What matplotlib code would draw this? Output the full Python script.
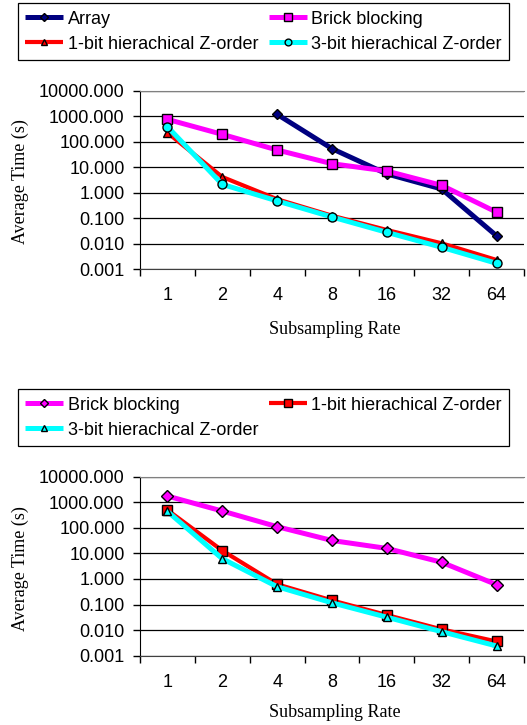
import matplotlib
matplotlib.use("Agg")
import matplotlib.pyplot as plt
from matplotlib.ticker import FixedLocator, NullFormatter, FormatStrFormatter

# ---- data ----
rates = ["1", "2", "4", "8", "16", "32", "64"]

# top chart
top_array = [None, None, 1180, 53, 5.4, 1.38, 0.020]
top_brick = [750, 193, 47, 13.6, 7.0, 1.92, 0.17]
top_1bit = [224, 4.1, 0.55, 0.124, 0.034, 0.0102, 0.00226]
top_3bit = [386, 2.1, 0.47, 0.11, 0.0275, 0.0071, 0.00167]

# bottom chart
bot_brick = [1750, 454, 111, 32, 15.7, 4.5, 0.60]
bot_1bit = [500, 12.9, 0.62, 0.145, 0.039, 0.0107, 0.0036]
bot_3bit = [440, 6.2, 0.50, 0.117, 0.032, 0.0087, 0.0024]

y_ticks = [0.001, 0.01, 0.1, 1, 10, 100, 1000, 10000]
x_label = "Subsampling Rate"
y_label = "Average Time (s)"

W, H = 527, 725
fig = plt.figure(figsize=(W / 100, H / 100), dpi=100)

SANS = ["Liberation Sans", "DejaVu Sans"]
SERIF = ["Liberation Serif", "DejaVu Serif"]
FS = 13


def ax_rect(x0, y0, x1, y1):
    return [x0 / W, 1 - y1 / H, (x1 - x0) / W, (y1 - y0) / H]


def style_axes(ax, ylab_y, xlab_y):
    ax.set_yscale("log")
    ax.set_ylim(0.001, 10000)
    ax.set_xlim(-0.5, len(rates) - 0.5)
    ax.yaxis.set_major_locator(FixedLocator(y_ticks))
    ax.yaxis.set_minor_locator(FixedLocator([]))
    ax.yaxis.set_major_formatter(FormatStrFormatter("%.3f"))
    ax.set_xticks(range(len(rates)))
    ax.set_xticklabels(rates)
    ax.xaxis.set_minor_locator(FixedLocator([i + 0.5 for i in range(-1, len(rates))]))
    ax.xaxis.set_minor_formatter(NullFormatter())
    ax.tick_params(axis="x", which="major", length=0, pad=13)
    ax.tick_params(axis="x", which="minor", length=5, width=1, direction="out", color="black")
    ax.tick_params(axis="y", which="major", length=5, width=1, direction="out", pad=6, color="black")
    for lab in ax.get_xticklabels() + ax.get_yticklabels():
        lab.set_fontfamily(SANS)
        lab.set_fontsize(FS)
    ax.grid(True, axis="y", color="black", linewidth=0.9)
    ax.set_axisbelow(True)
    ax.spines["right"].set_visible(False)
    ax.spines["top"].set_color("#808080")
    ax.spines["left"].set_color("black")
    ax.spines["bottom"].set_color("#404040")
    ax.set_xlabel(x_label, fontfamily=SERIF, fontsize=FS)
    ax.set_ylabel(y_label, fontfamily=SERIF, fontsize=FS)
    ax.xaxis.set_label_coords(0.507, xlab_y)
    ax.xaxis.label.set_va("center")
    ax.yaxis.set_label_coords(-0.311, ylab_y)
    ax.yaxis.label.set_va("center")


def plot_series(ax, vals, color, marker, ms, lw):
    xs = [i for i, v in enumerate(vals) if v is not None]
    ys = [v for v in vals if v is not None]
    return ax.plot(xs, ys, color=color, lw=lw, marker=marker, ms=ms,
                   markerfacecolor=color, markeredgecolor="black",
                   markeredgewidth=1.0, solid_capstyle="butt",
                   solid_joinstyle="round")[0]


def add_legend(handles, labels, y0, y1):
    leg = fig.legend(handles, labels, ncol=2, mode="expand", loc="lower left",
                     bbox_to_anchor=(18 / W, 1 - y1 / H, 491 / W, (y1 - y0) / H),
                     borderaxespad=0, frameon=True, fancybox=False,
                     edgecolor="black", framealpha=1, handlelength=2.1,
                     handletextpad=0.25, borderpad=0.4, labelspacing=0.45,
                     columnspacing=0.3, markerscale=0.75,
                     prop={"family": SANS, "size": FS})
    leg.get_frame().set_linewidth(0.9)
    return leg


# ---- top chart ----
ax1 = fig.add_axes(ax_rect(140, 90.7, 524, 269))
style_axes(ax1, 0.49, -0.342)
h1 = plot_series(ax1, top_array, "#000080", "D", 5.5, 3.6)
h2 = plot_series(ax1, top_brick, "#FF00FF", "s", 7, 3.6)
h3 = plot_series(ax1, top_1bit, "#FF0000", "^", 6, 3.0)
h4 = plot_series(ax1, top_3bit, "#00FFFF", "o", 6.5, 3.6)
# legend is filled column by column; order gives rows: Array|Brick, 1-bit|3-bit
add_legend([h1, h3, h2, h4],
           ["Array", "1-bit hierachical Z-order", "Brick blocking",
            "3-bit hierachical Z-order"], 4, 60)

# ---- bottom chart ----
ax2 = fig.add_axes(ax_rect(140, 476.7, 524, 655.7))
style_axes(ax2, 0.487, -0.315)
g1 = plot_series(ax2, bot_brick, "#FF00FF", "D", 6, 3.6)
g2 = plot_series(ax2, bot_1bit, "#FF0000", "s", 7, 3.0)
g3 = plot_series(ax2, bot_3bit, "#00FFFF", "^", 6, 3.6)
# rows: Brick|1-bit, 3-bit
add_legend([g1, g3, g2],
           ["Brick blocking", "3-bit hierachical Z-order",
            "1-bit hierachical Z-order"], 390.7, 446)

fig.savefig("out.png", dpi=100)
